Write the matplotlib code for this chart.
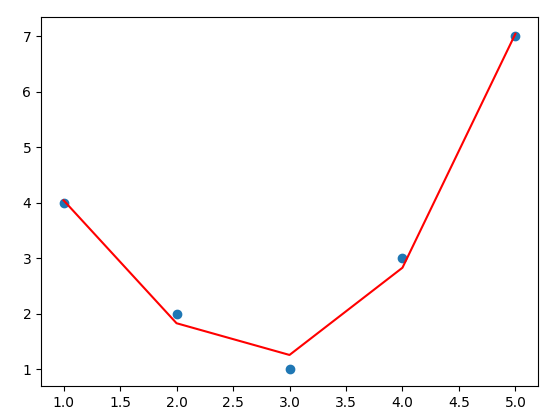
import numpy as np
import matplotlib
matplotlib.use("Agg")
import matplotlib.pyplot as plt

x_values = [1, 2, 3, 4, 5]
y_values = [4, 2, 1, 3, 7]


def main():
    # cubic fit through the points, drawn only at the sample x values
    coeffs = np.polyfit(x_values, y_values, 3)
    fitted = np.polyval(coeffs, x_values)

    fig = plt.figure(figsize=(5.49, 4.15), dpi=100)
    ax = fig.add_axes([41 / 549, 1 - 386 / 415, 497 / 549, 369 / 415])
    ax.scatter(x_values, y_values)
    ax.plot(x_values, fitted, color="red")

    fig.savefig("out.png", dpi=100)


if __name__ == "__main__":
    main()
